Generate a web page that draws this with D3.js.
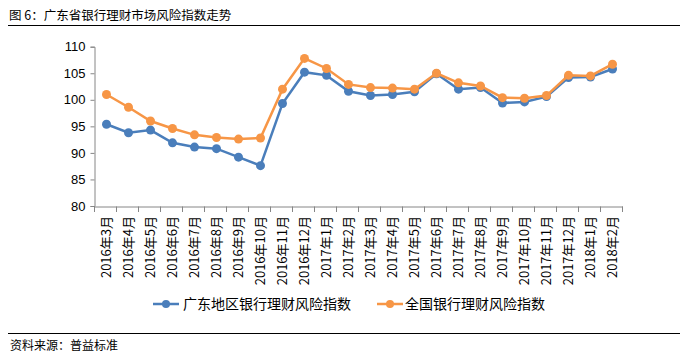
<!DOCTYPE html>
<html><head><meta charset="utf-8">
<script src="https://cdn.jsdelivr.net/npm/d3@7"></script>
<style>body{margin:0;background:#fff;} svg{display:block;font-family:"Noto Sans CJK SC","Microsoft YaHei",sans-serif;}</style>
</head><body>
<svg id="c" width="688" height="361"></svg>
<script>
const categories = ["2016年3月","2016年4月","2016年5月","2016年6月","2016年7月","2016年8月","2016年9月","2016年10月","2016年11月","2016年12月","2017年1月","2017年2月","2017年3月","2017年4月","2017年5月","2017年6月","2017年7月","2017年8月","2017年9月","2017年10月","2017年11月","2017年12月","2018年1月","2018年2月"];
const guangdong = [95.4,93.8,94.3,91.9,91.1,90.8,89.2,87.6,99.3,105.2,104.6,101.6,100.8,101.0,101.5,104.9,102.0,102.3,99.4,99.6,100.6,104.2,104.3,105.8];
const national  = [101.0,98.6,96.0,94.6,93.4,92.9,92.6,92.8,102.0,107.8,105.9,102.9,102.3,102.2,102.0,105.0,103.2,102.6,100.4,100.3,100.8,104.6,104.5,106.7];
const yTicks = [80,85,90,95,100,105,110];
const seriesNames = ["广东地区银行理财风险指数","全国银行理财风险指数"];
const colors = ["#4a7ebb","#f79646"];

const svg = d3.select("#c");
// title
svg.append("text").attr("x",9).attr("y",19.5).attr("font-size",12.5).attr("fill","#000").text("图 6：广东省银行理财市场风险指数走势");
svg.append("line").attr("x1",8).attr("x2",680).attr("y1",25.5).attr("y2",25.5).attr("stroke","#000").attr("stroke-width",1.2);
// footer
svg.append("line").attr("x1",8).attr("x2",680).attr("y1",333.5).attr("y2",333.5).attr("stroke","#000").attr("stroke-width",1.2);
svg.append("text").attr("x",10).attr("y",350).attr("font-size",12).attr("fill","#000").text("资料来源：普益标准");

const x = d3.scaleBand().domain(categories).range([94.5,622.5]);
const y = d3.scaleLinear().domain([80,110]).range([206,46.7]);

const yAxis = svg.append("g").attr("transform","translate(94.5,0)")
  .call(d3.axisLeft(y).tickValues(yTicks).tickSize(4).tickPadding(5));
yAxis.select(".domain").attr("stroke","#868686");
yAxis.selectAll(".tick line").attr("stroke","#868686");
yAxis.selectAll("text").attr("font-size",13).attr("fill","#000").attr("font-family","Liberation Sans, Arial, sans-serif");

const xAxis = svg.append("g").attr("transform","translate(0,206.5)")
  .call(d3.axisBottom(x).tickSize(0).tickFormat(""));
xAxis.select(".domain").attr("stroke","#868686");
// tick marks between categories
const bounds = categories.map((c)=>x(c)).concat([x.range()[1]]);
svg.append("g").selectAll("line").data(bounds).join("line")
  .attr("x1",d=>d).attr("x2",d=>d).attr("y1",206.5).attr("y2",212).attr("stroke","#868686");
// rotated labels
svg.append("g").selectAll("text").data(categories).join("text")
  .attr("transform",d=>`translate(${x(d)+x.bandwidth()/2+5},216) rotate(-90)`)
  .attr("text-anchor","end").attr("font-size",13).attr("fill","#000").text(d=>d);

const line = d3.line().x((d,i)=>x(categories[i])+x.bandwidth()/2+1).y(d=>y(d));
[guangdong,national].forEach((s,k)=>{
  svg.append("path").datum(s).attr("d",line).attr("fill","none").attr("stroke",colors[k]).attr("stroke-width",2.5);
  svg.append("g").selectAll("circle").data(s).join("circle")
    .attr("cx",(d,i)=>x(categories[i])+x.bandwidth()/2+1).attr("cy",d=>y(d)).attr("r",4.5).attr("fill",colors[k]);
});

// legend
const leg = [{x:153,tx:183},{x:377,tx:405}];
seriesNames.forEach((n,k)=>{
  const g = svg.append("g");
  g.append("line").attr("x1",leg[k].x).attr("x2",leg[k].x+26).attr("y1",304).attr("y2",304).attr("stroke",colors[k]).attr("stroke-width",2.5);
  g.append("circle").attr("cx",leg[k].x+13).attr("cy",304).attr("r",4).attr("fill",colors[k]);
  g.append("text").attr("x",leg[k].tx).attr("y",309).attr("font-size",14).attr("fill","#000").text(n);
});
</script>
</body></html>
